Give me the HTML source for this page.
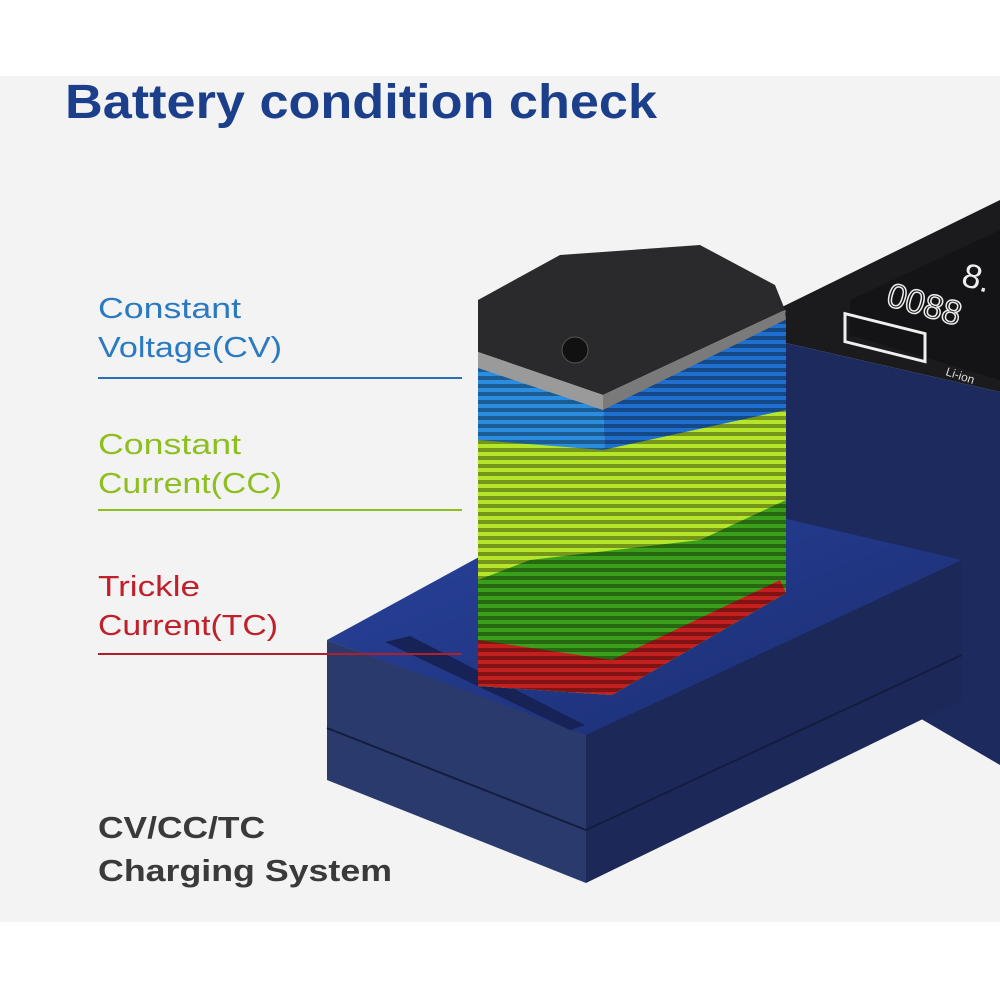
<!DOCTYPE html>
<html><head><meta charset="utf-8"><style>
html,body{margin:0;padding:0;background:#fff}
svg{display:block}
text{font-family:"Liberation Sans",sans-serif}
</style></head><body>
<svg width="1000" height="1000" viewBox="0 0 1000 1000" xmlns="http://www.w3.org/2000/svg">
<defs>
<pattern id="st" width="8" height="8" patternUnits="userSpaceOnUse">
<rect width="8" height="4" fill="rgba(0,0,0,0.35)"/>
</pattern>
<linearGradient id="bt" x1="0" y1="0" x2="1" y2="1">
<stop offset="0" stop-color="#2a44a0"/><stop offset="1" stop-color="#1a2c6e"/>
</linearGradient>
</defs>
<rect x="0" y="0" width="1000" height="1000" fill="#fff"/>
<rect x="0" y="76" width="1000" height="846" fill="#f3f3f4"/>
<text x="65" y="118" font-size="48" font-weight="bold" fill="#1c3f8c" textLength="592" lengthAdjust="spacingAndGlyphs">Battery condition check</text>

<!-- right block -->
<polygon points="782,307 1000,200 1000,392 786,343" fill="#1b1b1e"/>
<polygon points="786,343 1000,392 1000,765 786,640" fill="#1d2a5e"/>
<polygon points="850,300 1000,230 1000,380 850,335" fill="#141416"/>
<g fill="none" stroke="#f0f0f0" stroke-width="3">
<rect x="845" y="315" width="80" height="28" transform="skewY(14) translate(0,-212)"/>
</g>
<text x="960" y="285" font-size="34" fill="#eee" transform="rotate(16 960 285)">8.</text>
<text x="885" y="305" font-size="34" fill="none" stroke="#eee" stroke-width="1.5" transform="rotate(16 885 305)">0088</text>
<text x="945" y="375" font-size="12" fill="#ddd" transform="rotate(18 945 375)">Li-ion</text>

<!-- base -->
<polygon points="327,640 620,480 962,560 586,736" fill="url(#bt)"/>
<polygon points="327,640 586,735 586,883 327,780" fill="#2b3a6c"/>
<polygon points="586,735 962,560 962,700 586,883" fill="#1b2858"/>
<line x1="327" y1="728" x2="586" y2="830" stroke="#141d40" stroke-width="2"/>
<line x1="586" y1="830" x2="962" y2="655" stroke="#141d40" stroke-width="2"/>
<polygon points="385,642 410,636 585,725 570,730" fill="#172257"/>

<!-- battery -->
<polygon points="478,360 603,400 612,695 478,686" fill="#2a8de0"/>
<polygon points="603,400 786,310 786,593 612,695" fill="#1f6fd0"/>
<polygon points="478,440 603,450 786,410 786,593 612,695 478,686" fill="#b6e62a"/>
<polygon points="530,560 700,540 786,500 786,593 612,695 478,686 478,580" fill="#3aa01a"/>
<polygon points="478,640 612,660 780,580 786,593 612,695 478,686" fill="#c41f1f"/>
<polygon points="478,360 603,400 786,310 786,593 612,695 478,686" fill="url(#st)"/>
<polygon points="478,300 560,255 700,245 775,285 785,310 603,395 478,352" fill="#2a2a2c"/>
<polygon points="478,352 603,395 603,410 478,368" fill="#9a9a9a"/>
<polygon points="603,395 785,310 785,320 603,410" fill="#7a7a7a"/>
<circle cx="575" cy="350" r="13" fill="#111" stroke="#555"/>

<!-- labels -->
<g font-size="29">
<text x="98" y="318" fill="#2a7ac2" textLength="143" lengthAdjust="spacingAndGlyphs">Constant</text>
<text x="98" y="357" fill="#2a7ac2" textLength="184" lengthAdjust="spacingAndGlyphs">Voltage(CV)</text>
<text x="98" y="454" fill="#8cbf1f" textLength="143" lengthAdjust="spacingAndGlyphs">Constant</text>
<text x="98" y="493" fill="#8cbf1f" textLength="184" lengthAdjust="spacingAndGlyphs">Current(CC)</text>
<text x="98" y="596" fill="#c0202a" textLength="102" lengthAdjust="spacingAndGlyphs">Trickle</text>
<text x="98" y="635" fill="#c0202a" textLength="180" lengthAdjust="spacingAndGlyphs">Current(TC)</text>
</g>
<line x1="98" y1="378" x2="462" y2="378" stroke="#2a6fb0" stroke-width="2"/>
<line x1="98" y1="510" x2="462" y2="510" stroke="#8cbf1f" stroke-width="2"/>
<line x1="98" y1="654" x2="462" y2="654" stroke="#b0202a" stroke-width="2"/>

<text x="98" y="838" font-size="31" font-weight="bold" fill="#3a3a3a" textLength="167" lengthAdjust="spacingAndGlyphs">CV/CC/TC</text>
<text x="98" y="881" font-size="31" font-weight="bold" fill="#3a3a3a" textLength="294" lengthAdjust="spacingAndGlyphs">Charging System</text>
</svg>
</body></html>
